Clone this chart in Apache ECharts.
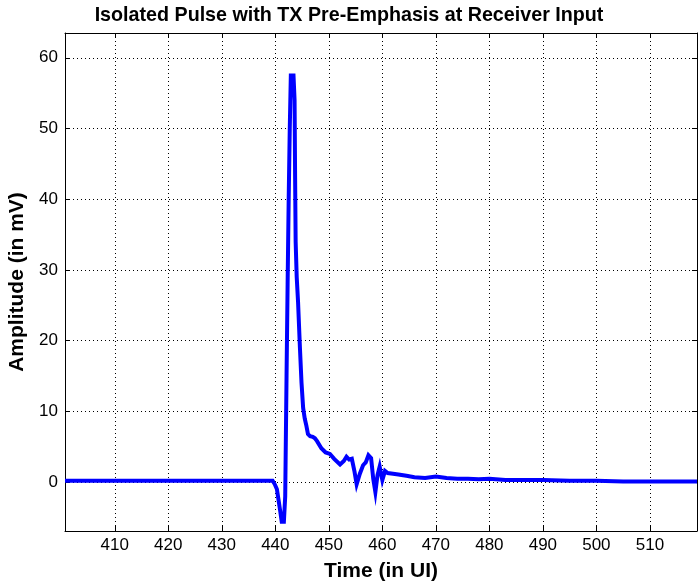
<!DOCTYPE html>
<html><head><meta charset="utf-8">
<script src="https://cdn.jsdelivr.net/npm/echarts@6/dist/echarts.min.js"></script>
<style>html,body{margin:0;padding:0;background:#fff}#c{width:698px;height:583px}</style>
</head><body><div id="c"></div>
<script>
const titleText = 'Isolated Pulse with TX Pre-Emphasis at Receiver Input';
const xName = 'Time (in UI)';
const yName = 'Amplitude (in mV)';
const xTicks = [410, 420, 430, 440, 450, 460, 470, 480, 490, 500, 510];
const yTicks = [0, 10, 20, 30, 40, 50, 60];
const timeUI = [400.7, 410, 420, 430, 439.5, 439.9, 440.3, 440.6, 440.9, 441.2, 441.6, 441.85, 442.1, 442.3, 442.5, 442.7, 442.9, 443.4, 443.6, 443.7, 443.8, 444.0, 444.25, 444.6, 444.9, 445.2, 445.5, 445.8, 446.1, 446.5, 447.0, 447.4, 447.8, 448.6, 449.4, 450.2, 451.0, 452.1, 452.8, 453.3, 453.8, 454.3, 454.8, 455.2, 455.8, 456.4, 456.9, 457.4, 457.9, 458.3, 458.7, 459.1, 459.5, 460.0, 460.5, 461.0, 462.0, 463.0, 464.5, 466.0, 468.0, 470.0, 472.0, 474.0, 476.0, 478.0, 480.0, 483.0, 486.0, 490.0, 495.0, 500.0, 505.0, 510.0, 515.0, 518.8];
const amplitude = [0.2, 0.2, 0.2, 0.2, 0.2, -0.3, -1.0, -2.5, -4.0, -5.6, -5.6, -2.0, 15.0, 28.0, 40.0, 50.0, 57.5, 57.5, 54.0, 43.0, 34.0, 29.0, 25.5, 19.0, 14.0, 10.5, 9.0, 8.0, 6.8, 6.5, 6.4, 6.2, 5.8, 4.8, 4.2, 4.0, 3.3, 2.5, 3.0, 3.6, 3.2, 3.3, 1.5, -0.3, 1.2, 2.4, 2.8, 3.8, 3.4, 0.5, -1.4, 1.0, 2.2, 0.3, 1.6, 1.3, 1.2, 1.1, 0.9, 0.7, 0.6, 0.8, 0.6, 0.5, 0.5, 0.4, 0.5, 0.3, 0.3, 0.3, 0.2, 0.2, 0.1, 0.1, 0.1, 0.1];

const data = timeUI.map((t, i) => [t, amplitude[i]]);
const xMin = 400.7, xMax = 518.8, yMin = -6.9, yMax = 63.5;
const font = 'Liberation Sans, Arial, sans-serif';
const grid = {type: [1, 3], color: '#000', width: 1};

const chart = echarts.init(document.getElementById('c'), null, {renderer: 'canvas'});
chart.setOption({
  animation: false,
  backgroundColor: '#fff',
  title: {text: titleText, left: 'center', top: 1,
    textStyle: {fontFamily: font, fontWeight: 'bold', fontSize: 19.7, color: '#000'}},
  grid: {left: 65, top: 33, right: 1, bottom: 52, containLabel: false, outerBoundsMode: 'none'},
  xAxis: [{
    type: 'value', min: xMin, max: xMax, position: 'bottom',
    name: xName, nameLocation: 'middle', nameGap: 30,
    nameTextStyle: {fontFamily: font, fontWeight: 'bold', fontSize: 21, color: '#000'},
    axisLine: {show: true, onZero: false, lineStyle: {color: '#000', width: 1}},
    axisTick: {show: true, inside: true, length: 5, customValues: xTicks, lineStyle: {color: '#000'}},
    axisLabel: {customValues: xTicks, margin: 6, fontFamily: font, fontSize: 17, color: '#000'},
    splitLine: {show: true, lineStyle: grid}
  }, {
    type: 'value', min: xMin, max: xMax, position: 'top',
    axisLine: {show: true, onZero: false, lineStyle: {color: '#000', width: 1}},
    axisTick: {show: true, inside: true, length: 5, customValues: xTicks, lineStyle: {color: '#000'}},
    axisLabel: {show: false}, splitLine: {show: false}
  }],
  yAxis: [{
    type: 'value', min: yMin, max: yMax, position: 'left',
    name: yName, nameLocation: 'middle', nameGap: 37, nameRotate: 90,
    nameTextStyle: {fontFamily: font, fontWeight: 'bold', fontSize: 21, color: '#000'},
    axisLine: {show: true, onZero: false, lineStyle: {color: '#000', width: 1}},
    axisTick: {show: true, inside: true, length: 5, customValues: yTicks, lineStyle: {color: '#000'}},
    axisLabel: {customValues: yTicks, margin: 7, fontFamily: font, fontSize: 17, color: '#000'},
    splitLine: {show: true, lineStyle: grid}
  }, {
    type: 'value', min: yMin, max: yMax, position: 'right',
    axisLine: {show: true, onZero: false, lineStyle: {color: '#000', width: 1}},
    axisTick: {show: true, inside: true, length: 5, customValues: yTicks, lineStyle: {color: '#000'}},
    axisLabel: {show: false}, splitLine: {show: false}
  }],
  series: [{
    type: 'line', data: data, xAxisIndex: 0, yAxisIndex: 0,
    showSymbol: false, symbol: 'none', smooth: false,
    lineStyle: {color: '#0000ff', width: 4, join: 'miter'},
    z: 5
  }]
});
</script></body></html>
